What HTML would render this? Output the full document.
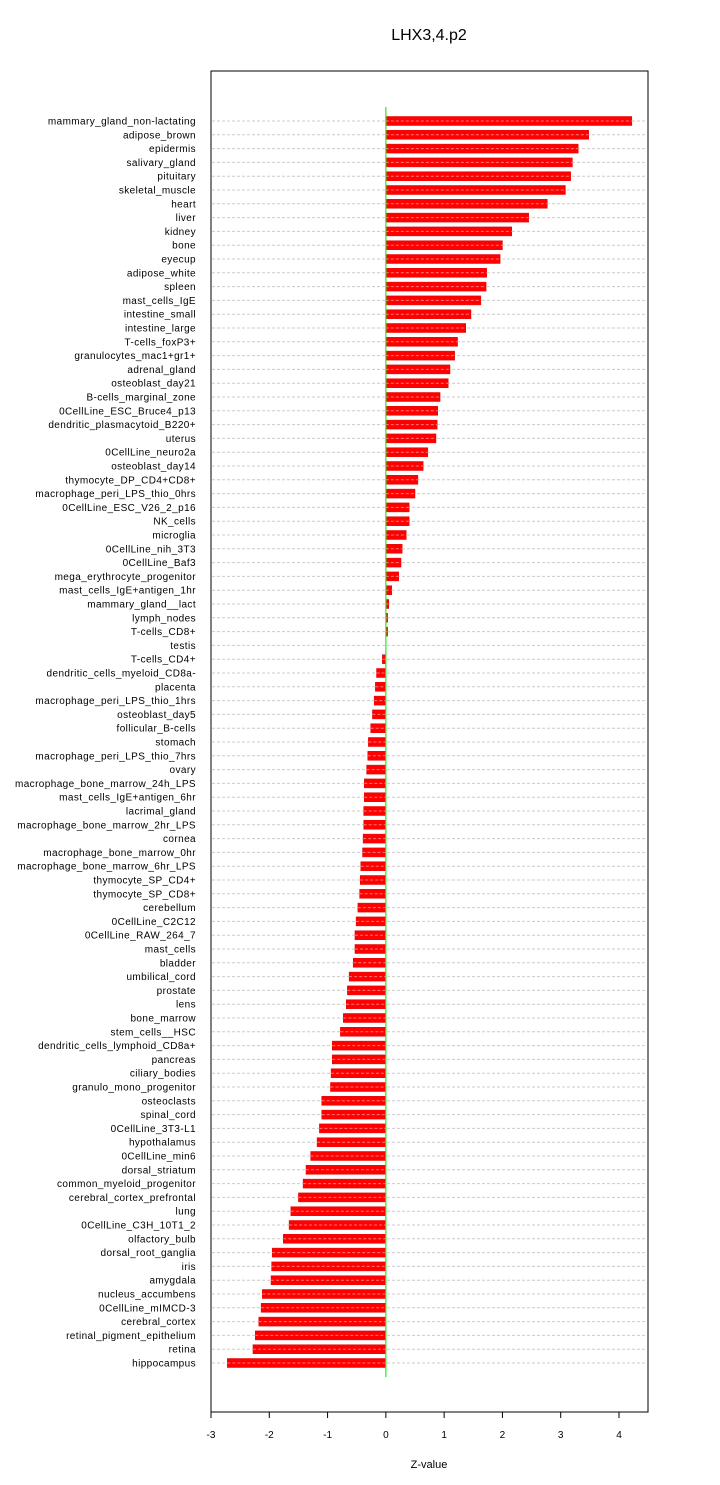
<!DOCTYPE html>
<html><head><meta charset="utf-8"><style>
html,body{margin:0;padding:0;background:#fff;}
svg{display:block;font-family:"Liberation Sans",sans-serif;}
</style></head><body>
<svg id="chart" width="720" height="1485">
<text x="429" y="40" font-size="16" text-anchor="middle">LHX3,4.p2</text>
<rect x="211" y="71" width="437" height="1341" fill="none" stroke="#000" stroke-width="1"/>
<g id="grid"></g><g id="bars"></g><g id="labels"></g><g id="axis"></g>
<text x="429" y="1468" font-size="11" text-anchor="middle">Z-value</text>
</svg>
<script>
const categories=["mammary_gland_non-lactating","adipose_brown","epidermis","salivary_gland","pituitary","skeletal_muscle","heart","liver","kidney","bone","eyecup","adipose_white","spleen","mast_cells_IgE","intestine_small","intestine_large","T-cells_foxP3+","granulocytes_mac1+gr1+","adrenal_gland","osteoblast_day21","B-cells_marginal_zone","0CellLine_ESC_Bruce4_p13","dendritic_plasmacytoid_B220+","uterus","0CellLine_neuro2a","osteoblast_day14","thymocyte_DP_CD4+CD8+","macrophage_peri_LPS_thio_0hrs","0CellLine_ESC_V26_2_p16","NK_cells","microglia","0CellLine_nih_3T3","0CellLine_Baf3","mega_erythrocyte_progenitor","mast_cells_IgE+antigen_1hr","mammary_gland__lact","lymph_nodes","T-cells_CD8+","testis","T-cells_CD4+","dendritic_cells_myeloid_CD8a-","placenta","macrophage_peri_LPS_thio_1hrs","osteoblast_day5","follicular_B-cells","stomach","macrophage_peri_LPS_thio_7hrs","ovary","macrophage_bone_marrow_24h_LPS","mast_cells_IgE+antigen_6hr","lacrimal_gland","macrophage_bone_marrow_2hr_LPS","cornea","macrophage_bone_marrow_0hr","macrophage_bone_marrow_6hr_LPS","thymocyte_SP_CD4+","thymocyte_SP_CD8+","cerebellum","0CellLine_C2C12","0CellLine_RAW_264_7","mast_cells","bladder","umbilical_cord","prostate","lens","bone_marrow","stem_cells__HSC","dendritic_cells_lymphoid_CD8a+","pancreas","ciliary_bodies","granulo_mono_progenitor","osteoclasts","spinal_cord","0CellLine_3T3-L1","hypothalamus","0CellLine_min6","dorsal_striatum","common_myeloid_progenitor","cerebral_cortex_prefrontal","lung","0CellLine_C3H_10T1_2","olfactory_bulb","dorsal_root_ganglia","iris","amygdala","nucleus_accumbens","0CellLine_mIMCD-3","cerebral_cortex","retinal_pigment_epithelium","retina","hippocampus"];
const values=[4.22,3.48,3.3,3.2,3.17,3.08,2.77,2.45,2.16,2.0,1.96,1.73,1.72,1.63,1.46,1.37,1.23,1.18,1.1,1.07,0.93,0.89,0.88,0.86,0.72,0.64,0.55,0.5,0.4,0.4,0.35,0.28,0.26,0.22,0.1,0.05,0.03,0.03,0,-0.06,-0.16,-0.18,-0.2,-0.23,-0.26,-0.3,-0.31,-0.33,-0.37,-0.37,-0.38,-0.38,-0.39,-0.4,-0.43,-0.44,-0.45,-0.48,-0.51,-0.53,-0.53,-0.56,-0.63,-0.66,-0.68,-0.73,-0.78,-0.92,-0.92,-0.94,-0.95,-1.1,-1.1,-1.14,-1.18,-1.29,-1.37,-1.42,-1.5,-1.63,-1.66,-1.76,-1.95,-1.96,-1.97,-2.12,-2.14,-2.18,-2.24,-2.28,-2.72];
const ticks=[-3,-2,-1,0,1,2,3,4];
const NS="http://www.w3.org/2000/svg";
const xs=v=>211+(v+3)*(408/7);
const ys=i=>121+i*(1242/90);
function mk(tag,attrs,parent,text){const e=document.createElementNS(NS,tag);for(const k in attrs)e.setAttribute(k,attrs[k]);if(text!==undefined)e.textContent=text;document.getElementById(parent).appendChild(e);return e;}
categories.forEach((c,i)=>{
  const y=ys(i);
  const g=mk("line",{x1:212,x2:647,y1:y,y2:y,stroke:"#ccc","stroke-width":1,"stroke-dasharray":"3,2"},"grid");
  
  
  const v=values[i];
  const x0=xs(0),x1=xs(v);
  const b=mk("rect",{x:Math.min(x0,x1),y:y-4.5,width:Math.abs(x1-x0),height:9,fill:"#ff0000",stroke:"#e00000","stroke-width":0.5},"bars");
  
  
  const d=mk("line",{x1:Math.min(x0,x1),x2:Math.max(x0,x1),y1:y,y2:y,stroke:"#ff7777","stroke-width":1,"stroke-dasharray":"3,2"},"bars");
  
  
  const t=mk("text",{x:196,y:y+3.5,"font-size":10,"letter-spacing":0.4,"text-anchor":"end"},"labels",c);
  
  
});
const z=mk("line",{x1:xs(0),x2:xs(0),y1:107,y2:1377,stroke:"#22ee22","stroke-width":1.2},"axis");


ticks.forEach(t=>{
  const x=xs(t);
  const l=mk("line",{x1:x,x2:x,y1:1412,y2:1418,stroke:"#000"},"axis");
  
  
  const tx=mk("text",{x:x,y:1438,"font-size":10,"text-anchor":"middle"},"axis",String(t));
  
  
});
</script>
</body></html>
